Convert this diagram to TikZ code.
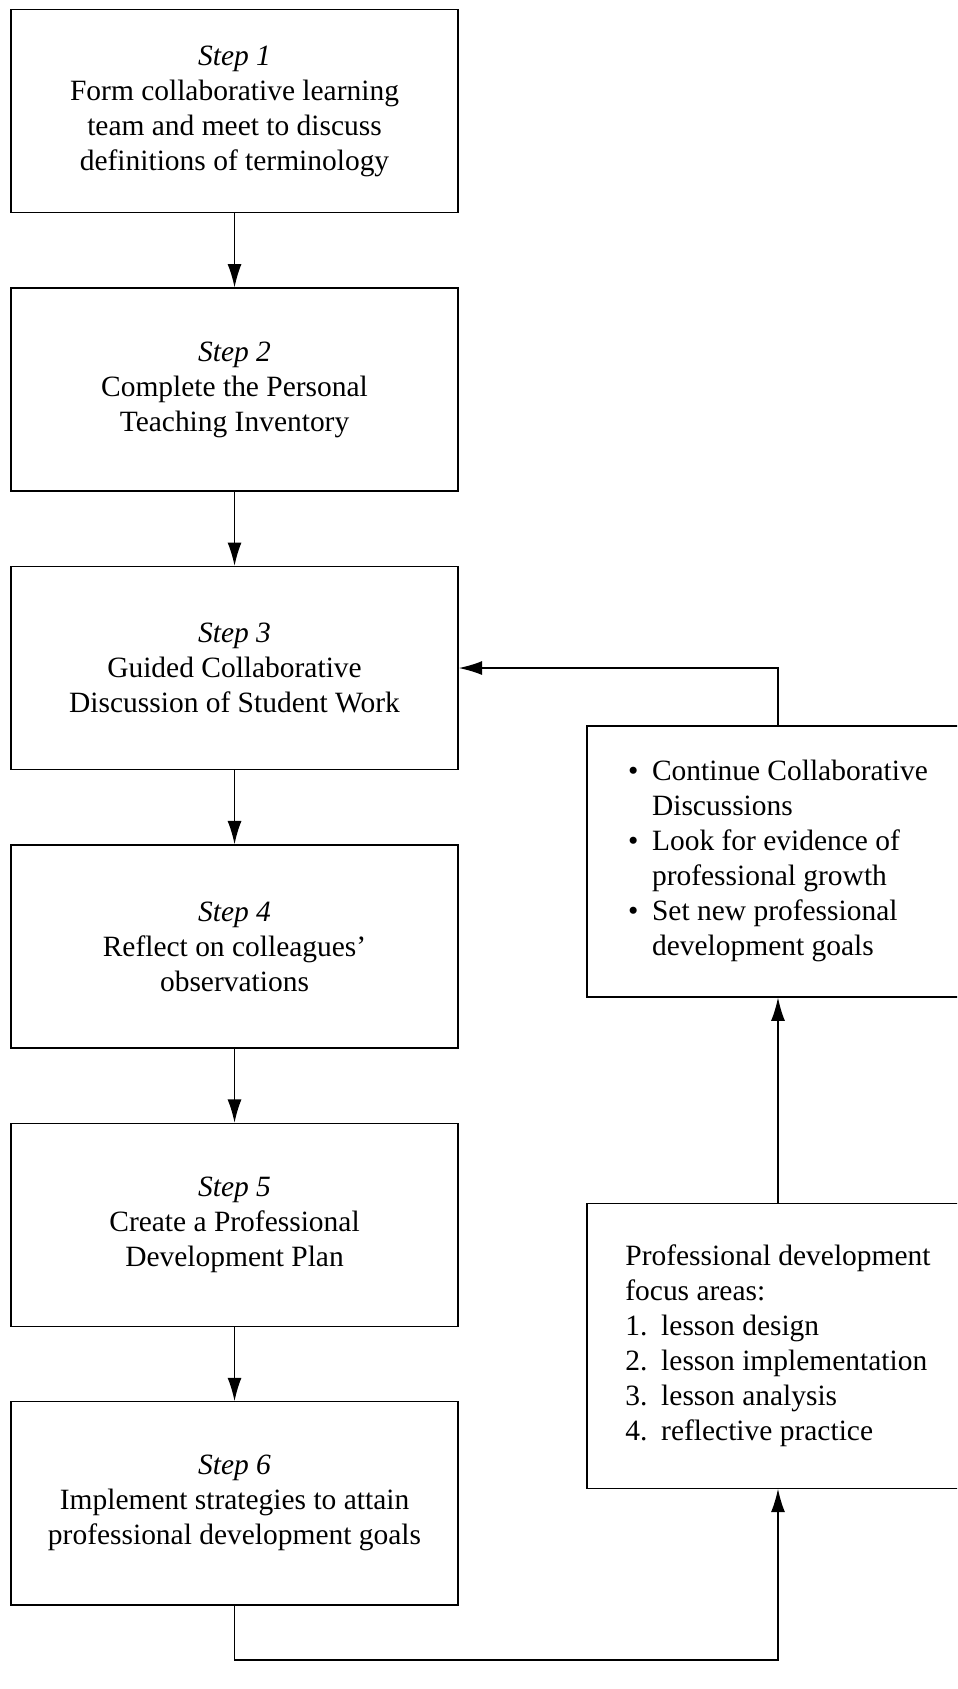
\documentclass[tikz,border=0pt]{standalone}
\usepackage{fontspec}
\setmainfont{Liberation Serif}
\usetikzlibrary{positioning,arrows.meta}

\begin{document}
\begin{tikzpicture}[x=1pt, y=1pt, node distance={25.4pt}, line width=0.45pt,
		>={Latex[length=8pt,width=4.8pt]},
		every node/.style = {font=\fontsize{10.1}{12}\selectfont},
		main/.style = {draw, rectangle, minimum width=153.3pt, minimum height=69.6pt, align=center, inner sep=0pt},
		side/.style = {draw, rectangle, minimum width=131pt, inner sep=0pt}]
		\clip (-80.4,38.1) rectangle (247.7,-540.9);
		
		\node[main] (1) {\textit{Step 1}\\Form collaborative learning\\team and meet to discuss\\definitions of terminology};
		\node[main] (2) [below=of 1] {\textit{Step 2}\\Complete the Personal\\Teaching Inventory};
		\node[main] (3) [below=of 2] {\textit{Step 3}\\Guided Collaborative\\Discussion of Student Work};
		\node[main] (4) [below=of 3] {\textit{Step 4}\\Reflect on colleagues'\\observations};
		\node[main] (5) [below=of 4] {\textit{Step 5}\\Create a Professional\\Development Plan};
		\node[main] (6) [below=of 5] {\textit{Step 6}\\Implement strategies to attain\\professional development goals};
		
		\node[side, minimum height=92.9pt] (c) at (186.3,-257.2) {\begin{tabular}{@{}l@{}l@{}}
				\makebox[8.2pt][l]{\textbullet} & Continue Collaborative\\
				& Discussions\\
				\makebox[8.2pt][l]{\textbullet} & Look for evidence of\\
				& professional growth\\
				\makebox[8.2pt][l]{\textbullet} & Set new professional\\
				& development goals
			\end{tabular}};
		\node[side, minimum height=97.7pt] (p) at (186.3,-423.2) {\begin{tabular}{@{}l@{}l@{}}
				\multicolumn{2}{@{}l@{}}{Professional development}\\
				\multicolumn{2}{@{}l@{}}{focus areas:}\\
				\makebox[12.3pt][l]{1.} & lesson design\\
				\makebox[12.3pt][l]{2.} & lesson implementation\\
				\makebox[12.3pt][l]{3.} & lesson analysis\\
				\makebox[12.3pt][l]{4.} & reflective practice
			\end{tabular}};
		\coordinate (low) at (0,-531);
		
		\draw[->] (1) -- (2);
		\draw[->] (2) -- (3);
		\draw[->] (3) -- (4);
		\draw[->] (4) -- (5);
		\draw[->] (5) -- (6);
		\draw[->] (6) -- (low) -| (p);
		\draw[->] (p) -- (c);
		\draw[->] (c) |- (3);
		
	\end{tikzpicture}
\end{document}
